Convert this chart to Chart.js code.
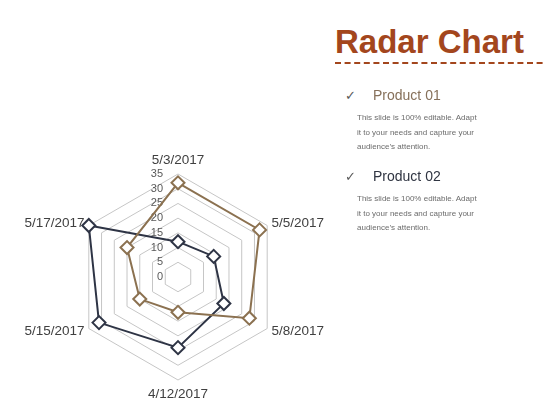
<!DOCTYPE html>
<html>
<head>
<meta charset="utf-8">
<script src="https://cdn.jsdelivr.net/npm/chart.js@4"></script>
<style>
  html, body { margin: 0; padding: 0; background: #ffffff; }
  body { width: 560px; height: 420px; position: relative; overflow: hidden; font-family: "Liberation Sans", Arial, sans-serif; }
  #chartBox { position: absolute; left: 0; top: 140px; width: 357px; height: 275px; }
  .abs { position: absolute; white-space: nowrap; }
  #title { left: 335px; top: 25px; font-size: 33px; line-height: 33px; font-weight: bold; color: #A3461D; }
  .check { font-family: "DejaVu Sans", sans-serif; font-size: 13px; line-height: 13px; color: #5a5a5a; }
  .prod { font-size: 14px; line-height: 14px; }
  .desc { font-size: 8px; line-height: 14.5px; color: #6b6b6b; }
</style>
</head>
<body>
<div id="chartBox"><canvas id="c"></canvas></div>

<div id="title" class="abs">Radar Chart</div>
<svg class="abs" style="left:335px;top:61px" width="212" height="4">
  <line x1="0" y1="2" x2="209" y2="2" stroke="#A3461D" stroke-width="2" stroke-dasharray="6,3.6"/>
</svg>

<div class="abs check" style="left:345px;top:89px">✓</div>
<div class="abs prod" style="left:373px;top:88px;color:#86705A">Product 01</div>
<div class="abs desc" style="left:357px;top:111px">This slide is 100% editable. Adapt<br>it to your needs and capture your<br>audience’s attention.</div>

<div class="abs check" style="left:345px;top:170px">✓</div>
<div class="abs prod" style="left:373px;top:169px;color:#2F3441">Product 02</div>
<div class="abs desc" style="left:357px;top:192px">This slide is 100% editable. Adapt<br>it to your needs and capture your<br>audience’s attention.</div>

<script>
const categories = ['5/3/2017', '5/5/2017', '5/8/2017', '4/12/2017', '5/15/2017', '5/17/2017'];
const product01 = [32, 32, 28, 12, 15, 20];
const product02 = [12, 14, 18, 24, 31, 35];
const seriesNames = ['Product 01', 'Product 02'];
const tickMin = 0;
const tickMax = 35;
const tickStep = 5;

const FONT = '"Liberation Sans", Arial, sans-serif';

const tickLabelPlugin = {
  id: 'tickLabels',
  beforeDatasetsDraw(chart) {
    const s = chart.scales.r;
    const ctx = chart.ctx;
    ctx.save();
    ctx.font = '11px ' + FONT;
    ctx.fillStyle = '#595959';
    ctx.textAlign = 'right';
    ctx.textBaseline = 'middle';
    s.ticks.forEach(t => {
      const d = s.getDistanceFromCenterForValue(t.value);
      ctx.fillText(t.label, s.xCenter - 15, s.yCenter - d);
    });
    ctx.restore();
  }
};

const pointLabelPlugin = {
  id: 'pointLabelsCustom',
  afterDraw(chart) {
    const s = chart.scales.r;
    const ctx = chart.ctx;
    ctx.save();
    ctx.font = '13.5px ' + FONT;
    ctx.fillStyle = '#404040';
    ctx.textBaseline = 'middle';
    chart.data.labels.forEach((lab, i) => {
      const a = s.getIndexAngle(i);
      const sn = Math.sin(a);
      const vertical = Math.abs(sn) < 0.01;
      const p = s.getPointPosition(i, s.drawingArea + (vertical ? 14 : 5));
      ctx.textAlign = vertical ? 'center' : (sn > 0 ? 'left' : 'right');
      ctx.fillText(lab, p.x, p.y);
    });
    ctx.restore();
  }
};

new Chart(document.getElementById('c'), {
  type: 'radar',
  data: {
    labels: categories,
    datasets: [
      {
        label: seriesNames[0],
        data: product01,
        borderColor: '#8B7150',
        backgroundColor: '#ffffff',
        pointBackgroundColor: '#ffffff',
        pointBorderColor: '#8B7150',
        borderWidth: 2,
        pointBorderWidth: 2,
        pointRadius: 6.5,
        pointHoverRadius: 6.5,
        pointStyle: 'rectRot',
        fill: false,
        tension: 0,
        clip: false
      },
      {
        label: seriesNames[1],
        data: product02,
        borderColor: '#2E3445',
        backgroundColor: '#ffffff',
        pointBackgroundColor: '#ffffff',
        pointBorderColor: '#2E3445',
        borderWidth: 2,
        pointBorderWidth: 2,
        pointRadius: 6.5,
        pointHoverRadius: 6.5,
        pointStyle: 'rectRot',
        fill: false,
        tension: 0,
        clip: false
      }
    ]
  },
  options: {
    responsive: true,
    maintainAspectRatio: false,
    animation: false,
    layout: { padding: { left: 75, right: 76, top: 34, bottom: 35 } },
    plugins: { legend: { display: false }, tooltip: { enabled: false } },
    scales: {
      r: {
        min: tickMin,
        max: tickMax,
        ticks: { stepSize: tickStep, display: false },
        pointLabels: { display: false },
        angleLines: { display: false },
        grid: { circular: false, color: '#c6c6c6', lineWidth: 1 }
      }
    }
  },
  plugins: [tickLabelPlugin, pointLabelPlugin]
});
</script>
</body>
</html>
